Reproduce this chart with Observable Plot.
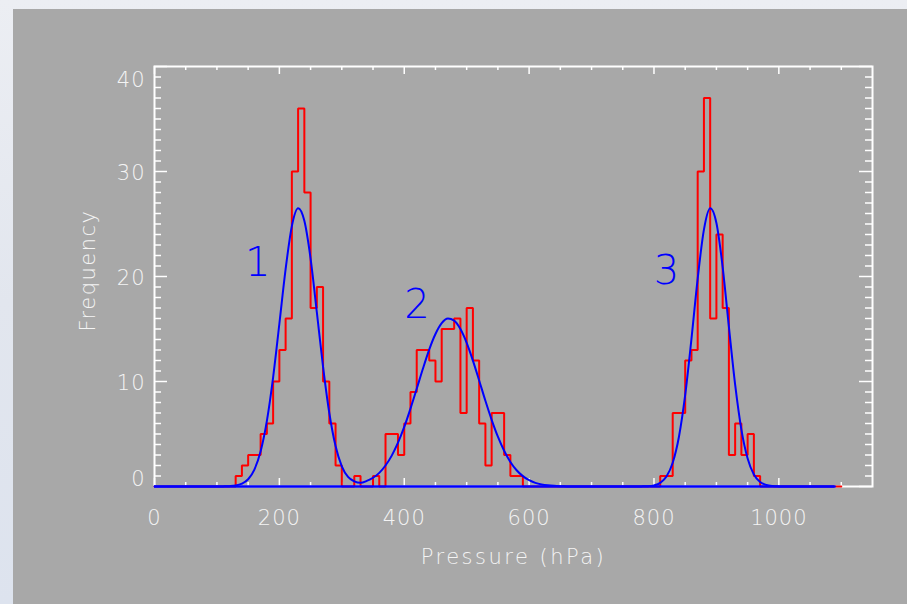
<!DOCTYPE html>
<html>
<head>
<meta charset="utf-8">
<script src="https://cdn.jsdelivr.net/npm/d3@7"></script>
<script src="https://cdn.jsdelivr.net/npm/@observablehq/plot@0.6"></script>
<style>
  html, body { margin: 0; padding: 0; }
  body {
    width: 907px; height: 604px; overflow: hidden; position: relative;
    background: linear-gradient(to bottom, #eceef3 0%, #e2e6ee 50%, #dde3ee 100%);
  }
  #panel { position: absolute; left: 13px; top: 9px; width: 894px; height: 595px; background: #a8a8a8; }
  #panel svg { display: block; }
  #panel svg text { letter-spacing: 1px; }
</style>
</head>
<body>
<div id="panel"></div>
<script>
// ---- Histogram (red): left edge of each 10 hPa bin and its count (empty bins omitted)
const binLeft = [130,140,150,160,170,180,190,200,210,220,230,240,250,260,270,280,290,
                 320, 350,
                 370,380,390,400,410,420,430,440,450,460,470,480,490,500,510,520,530,540,550,560,570,580,
                 810,820,830,840,850,860,870,880,890,900,910,920,930,940,950,960];
const binCount = [1,2,3,3,5,6,10,13,16,30,36,28,17,19,10,6,2,
                  1, 1,
                  5,5,3,6,9,13,13,12,10,15,15,16,7,17,12,6,2,7,7,3,1,1,
                  1,1,7,7,12,13,30,37,16,24,17,3,6,3,5,1];
const binWidth = 10;
const histEnd = 1100;

// ---- Fitted curve (blue)
const fitPressure = [0,100,
  110,120,130,140,150,160,170,180,190,200,210,220,230,240,250,260,270,280,290,300,
  310,320,330,340,350,360,370,380,390,400,410,420,430,440,450,460,470,480,490,500,
  510,520,530,540,550,560,570,580,590,600,610,620,630,640,650,660,670,
  770,780,790,800,810,820,830,840,850,860,870,880,890,900,910,920,930,940,950,960,970,980,990,1000,1010,
  1090];
const fitFrequency = [0,0,
  0.01,0.03,0.09,0.27,0.69,1.61,3.35,6.25,10.4,15.5,20.7,24.8,26.5,25.3,21.7,16.6,11.4,7.0,3.85,1.92,
  0.91,0.49,0.35,0.53,0.83,1.30,2.0,2.94,4.17,5.67,7.42,9.31,11.24,13.04,14.52,15.55,15.99,15.8,14.99,13.68,
  11.99,10.1,8.16,6.35,4.74,3.40,2.34,1.55,0.99,0.60,0.35,0.20,0.11,0.06,0.03,0.01,0,
  0,0.01,0.03,0.11,0.35,0.95,2.26,4.74,8.72,14.04,19.8,24.46,26.5,25.1,20.9,15.2,9.7,5.42,2.66,1.14,0.43,0.14,0.04,0.01,0,
  0];

// ---- Peak annotations
const peakLabels = ["1", "2", "3"];
const peakLabelPressure = [166, 421, 821];
const peakLabelFrequency = [21.3, 17.3, 20.5];

// ---- Axes
const xDomain = [0, 1150];
const yDomain = [0, 40];
const xMajorTicks = [0, 200, 400, 600, 800, 1000];
const xTickLabels = ["0", "200", "400", "600", "800", "1000"];
const xMinorTicks = d3.range(50, 1150, 50).filter(v => v % 200 !== 0);
const yMajorTicks = [0, 10, 20, 30, 40];
const yTickLabels = ["0", "10", "20", "30", "40"];
const yMinorTicks = d3.range(1, 40).filter(v => v % 10 !== 0);
const xTitle = "Pressure (hPa)";
const yTitle = "Frequency";

// Build tables
const countByBin = new Map(binLeft.map((b, i) => [b, binCount[i]]));
const histRows = d3.range(0, histEnd + binWidth, binWidth).map(p => ({p, f: p < histEnd ? (countByBin.get(p) ?? 0) : 0}));
const fitRows = fitPressure.map((p, i) => ({p, f: fitFrequency[i]}));
const peakRows = peakLabels.map((t, i) => ({t, p: peakLabelPressure[i], f: peakLabelFrequency[i]}));
const xLabelRows = xMajorTicks.map((v, i) => ({v, t: xTickLabels[i]}));
const yLabelRows = yMajorTicks.map((v, i) => ({v, t: yTickLabels[i]}));
const fitBaseline = [{x1: fitPressure[0], x2: fitPressure[fitPressure.length - 1], y: 0}];

const W = 894, H = 595;
const mL = 141, mR = 35, mT = 57, mB = 118;
const fw = W - mL - mR, fh = H - mT - mB;
const font = "'DejaVu Sans ExtraLight', 'DejaVu Sans Light', 'DejaVu Sans'";
const tickColor = "#ffffff";
const lblFill = "#f4f4f4";
const blue = "#0000ff";

const chart = Plot.plot({
  width: W, height: H,
  marginLeft: mL, marginRight: mR, marginTop: mT, marginBottom: mB,
  x: {domain: xDomain, axis: null},
  y: {domain: yDomain, axis: null},
  style: {background: "transparent", color: "white", fontFamily: font, overflow: "visible"},
  marks: [
    // ticks: bottom & top
    Plot.tickX(xMajorTicks, {x: d => d, insetTop: fh - 8, stroke: tickColor, strokeWidth: 1.5}),
    Plot.tickX(xMinorTicks, {x: d => d, insetTop: fh - 4, stroke: tickColor, strokeWidth: 1.5}),
    Plot.tickX(xMajorTicks, {x: d => d, insetBottom: fh - 8, stroke: tickColor, strokeWidth: 1.5}),
    Plot.tickX(xMinorTicks, {x: d => d, insetBottom: fh - 4, stroke: tickColor, strokeWidth: 1.5}),
    // ticks: left & right
    Plot.tickY(yMajorTicks, {y: d => d, insetRight: fw - 13, stroke: tickColor, strokeWidth: 1.5}),
    Plot.tickY(yMinorTicks, {y: d => d, insetRight: fw - 7, stroke: tickColor, strokeWidth: 1.5}),
    Plot.tickY(yMajorTicks, {y: d => d, insetLeft: fw - 13, stroke: tickColor, strokeWidth: 1.5}),
    Plot.tickY(yMinorTicks, {y: d => d, insetLeft: fw - 7, stroke: tickColor, strokeWidth: 1.5}),
    Plot.frame({stroke: "white", strokeWidth: 2}),
    // tick labels
    Plot.text(xLabelRows, {x: "v", text: "t", frameAnchor: "bottom", dy: 32, lineAnchor: "middle",
      fill: lblFill, fontSize: 21, fontWeight: 200}),
    Plot.text(yLabelRows.filter(d => d.v > 0 && d.v < 40), {y: "v", text: "t", frameAnchor: "left", dx: -9, dy: 1.5,
      textAnchor: "end", fill: lblFill, fontSize: 21, fontWeight: 200}),
    Plot.text(yLabelRows.filter(d => d.v === 0), {y: "v", text: "t", frameAnchor: "left", dx: -9, dy: -7,
      textAnchor: "end", fill: lblFill, fontSize: 21, fontWeight: 200}),
    Plot.text(yLabelRows.filter(d => d.v === 40), {y: "v", text: "t", frameAnchor: "left", dx: -9, dy: 14,
      textAnchor: "end", fill: lblFill, fontSize: 21, fontWeight: 200}),
    // axis titles
    Plot.text([xTitle], {text: d => d, frameAnchor: "bottom", dy: 71, lineAnchor: "middle",
      fill: lblFill, fontSize: 21, fontWeight: 200}),
    Plot.text([yTitle], {text: d => d, frameAnchor: "left", dx: -66, dy: -6, rotate: -90,
      textAnchor: "middle", lineAnchor: "middle", fill: lblFill, fontSize: 21, fontWeight: 200}),
    // histogram
    Plot.line(histRows, {x: "p", y: "f", curve: "step-after", stroke: "#ff0000", strokeWidth: 2, strokeLinejoin: "miter"}),
    // fit: zero baseline + curve
    Plot.ruleY(fitBaseline, {x1: "x1", x2: "x2", y: "y", stroke: blue, strokeWidth: 2.5}),
    Plot.line(fitRows, {x: "p", y: "f", curve: "monotone-x", stroke: blue, strokeWidth: 2}),
    // peak labels
    Plot.text(peakRows, {x: "p", y: "f", text: "t", fill: blue, fontSize: 40, fontWeight: 200, lineAnchor: "middle"})
  ]
});
document.getElementById("panel").appendChild(chart);
// widen the axis titles a little, like the original's stroke font
d3.select(chart).selectAll("text").filter(function() { return this.textContent === xTitle; })
  .style("letter-spacing", "2.5px");
d3.select(chart).selectAll("text").filter(function() { return this.textContent === yTitle; })
  .style("letter-spacing", "1.5px");
</script>
</body>
</html>
